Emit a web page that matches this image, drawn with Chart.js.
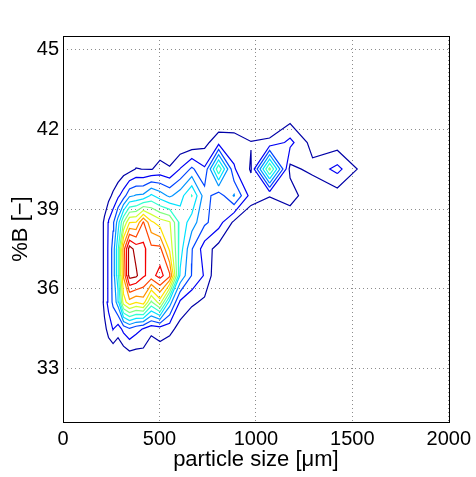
<!DOCTYPE html>
<html><head><meta charset="utf-8">
<script src="https://cdn.jsdelivr.net/npm/chart.js@4.4.1/dist/chart.umd.min.js"></script>
<style>html,body{margin:0;padding:0;background:#fff;}canvas{display:block;}</style>
</head><body>
<canvas id="c" width="476" height="477"></canvas>
<script>
// grid nodes: particle size [um] and %B
const xNodes = [195.5, 214.9, 236.2, 259.6, 285.3, 313.6, 344.7, 378.8, 416.4, 457.6, 503.0, 552.9, 607.6, 667.8, 734.0, 806.8, 886.8, 974.6, 1071.2, 1177.4, 1294.1, 1422.3, 1563.3];
const yNodes = [33.5, 34.5, 35.5, 36.5, 37.5, 38.5, 39.5, 40.5, 41.5, 42.5];
// density values per %B row (one value per particle-size node)
const row335 = [0, 0, 0, 0.15, 0, 0.3, 0.62, 0.57, 0.63, 0, 0.45, 0, 0, 0, 0, 0, 0, 0, 0, 0, 0, 0, 0];
const row345 = [0, 0.6, 1.5, 2.05, 1.5, 2.3, 2.9, 2.36, 1.95, 1.35, 1.5, 1.35, 0.59, 0, 0, 0, 0, 0, 0, 0, 0, 0, 0];
const row355 = [0, 1.5, 2.3, 3.2, 4.5, 8.5, 9.6, 9.05, 9.5, 6.8, 8.5, 4.5, 1.8, 1.2, 0.78, 0, 0, 0, 0, 0, 0, 0, 0];
const row365 = [0, 1.55, 2.1, 3.4, 5.6, 10.1, 13.4, 13.2, 12.15, 11.6, 12.4, 11.2, 4.8, 2.95, 1.9, 0, 0, 0, 0, 0, 0, 0, 0];
const row375 = [0, 1.55, 2.1, 3.4, 5.8, 10.5, 13.5, 12.6, 12.3, 11.3, 11.3, 8.8, 5.5, 3.06, 1.5, 0.59, 0, 0, 0, 0, 0, 0, 0];
const row385 = [0, 1.2, 2.1, 2.8, 4.5, 7.0, 8.95, 9.05, 11.1, 9.2, 8.5, 8.1, 5.7, 4.5, 3.2, 2.43, 0.79, 0, 0, 0, 0, 0, 0];
const row395 = [0, 0.3, 0.7, 1.2, 1.8, 2.5, 3.8, 4.1, 4.2, 5.2, 4.5, 3.8, 4.56, 6.05, 3.5, 2.4, 4.1, 1.57, 1.05, 1.6, 0, 0.46, 0];
const row405 = [0, 0, 0, 0, 0.2, 0.5, 0.62, 1.05, 0.98, 0.95, 1.3, 1.1, 2.05, 3.2, 2.13, 6.8, 2.1, 0.9, 7.3, 0.7, 1.3, 2.31, 0.52];
const row415 = [0, 0, 0, 0, 0, 0, 0, 0, 0, 0, 0.4, 0.2, 0.18, 0.2, 0.68, 1.64, 1.57, 1.04, 1.2, 2.3, 0.59, 0.46, 0];
const row425 = [0, 0, 0, 0, 0, 0, 0, 0, 0, 0, 0, 0, 0, 0, 0, 0, 0, 0, 0, 0.47, 0, 0, 0];
const levels = [1, 2, 3, 4, 5, 6, 7, 8, 9, 10, 11, 12, 13];
const xTicks = [0, 500, 1000, 1500, 2000];
const yTicks = [33, 36, 39, 42, 45];

// styles
const levelColors = ['rgb(0,0,167)','rgb(0,0,245)','rgb(0,69,255)','rgb(0,147,255)','rgb(0,226,255)','rgb(49,255,206)','rgb(128,255,128)','rgb(206,255,49)','rgb(255,226,0)','rgb(255,147,0)','rgb(255,69,0)','rgb(245,0,0)','rgb(167,0,0)'];

const Z = [row335, row345, row355, row365, row375, row385, row395, row405, row415, row425];

function traceLevel(L) {
  const nx = xNodes.length, ny = yNodes.length;
  const pts = {};
  const segs = [];
  function ep(key, i1, j1, i2, j2) {
    if (!pts[key]) {
      const a = Z[j1][i1], b = Z[j2][i2];
      const t = (L - a) / (b - a);
      pts[key] = { x: xNodes[i1] + t * (xNodes[i2] - xNodes[i1]), y: yNodes[j1] + t * (yNodes[j2] - yNodes[j1]) };
    }
    return key;
  }
  for (let j = 0; j < ny - 1; j++) {
    for (let i = 0; i < nx - 1; i++) {
      const a = Z[j][i], b = Z[j][i + 1], c = Z[j + 1][i + 1], d = Z[j + 1][i];
      const A = a >= L, B = b >= L, C = c >= L, D = d >= L;
      const cr = [];
      if (A !== B) cr.push(ep('h' + i + '_' + j, i, j, i + 1, j));
      if (B !== C) cr.push(ep('v' + (i + 1) + '_' + j, i + 1, j, i + 1, j + 1));
      if (D !== C) cr.push(ep('h' + i + '_' + (j + 1), i, j + 1, i + 1, j + 1));
      if (A !== D) cr.push(ep('v' + i + '_' + j, i, j, i, j + 1));
      if (cr.length === 2) segs.push([cr[0], cr[1]]);
      else if (cr.length === 4) {
        const center = (a + b + c + d) / 4 >= L;
        const [k0, k1, k2, k3] = cr;
        if (A === center) { segs.push([k0, k1]); segs.push([k2, k3]); }
        else { segs.push([k3, k0]); segs.push([k1, k2]); }
      }
    }
  }
  const byKey = {};
  segs.forEach((s, idx) => { (byKey[s[0]] = byKey[s[0]] || []).push(idx); (byKey[s[1]] = byKey[s[1]] || []).push(idx); });
  const used = new Array(segs.length).fill(false);
  const lines = [];
  for (let s = 0; s < segs.length; s++) {
    if (used[s]) continue;
    used[s] = true;
    const chain = [segs[s][0], segs[s][1]];
    let ext = true;
    while (ext) {
      ext = false;
      const tail = chain[chain.length - 1];
      for (const idx of byKey[tail]) {
        if (!used[idx]) { used[idx] = true; const sg = segs[idx]; chain.push(sg[0] === tail ? sg[1] : sg[0]); ext = true; break; }
      }
    }
    ext = true;
    while (ext) {
      ext = false;
      const head = chain[0];
      for (const idx of byKey[head]) {
        if (!used[idx]) { used[idx] = true; const sg = segs[idx]; chain.unshift(sg[0] === head ? sg[1] : sg[0]); ext = true; break; }
      }
    }
    lines.push(chain.map(k => pts[k]));
  }
  return lines;
}

const datasets = levels.map((L, li) => {
  const data = [];
  traceLevel(L).forEach(line => { line.forEach(p => data.push(p)); data.push({ x: null, y: null }); });
  return { label: 'level ' + L, data, borderColor: levelColors[li], backgroundColor: levelColors[li], borderWidth: 1.2, pointRadius: 0, pointHoverRadius: 0, showLine: true, fill: false, tension: 0, spanGaps: false };
});

const boxPlugin = {
  id: 'box',
  afterDatasetsDraw(chart) {
    const { ctx, chartArea: { left, top, right, bottom } } = chart;
    ctx.save();
    ctx.strokeStyle = '#000';
    ctx.lineWidth = 1;
    ctx.strokeRect(Math.round(left) + 0.5, Math.round(top) + 0.5, Math.round(right) - Math.round(left), Math.round(bottom) - Math.round(top));
    ctx.restore();
  }
};

const fontFam = "'Liberation Sans', Arial, Helvetica, sans-serif";
new Chart(document.getElementById('c'), {
  type: 'scatter',
  data: { datasets },
  plugins: [boxPlugin],
  options: {
    responsive: false, animation: false, devicePixelRatio: 1,
    layout: { padding: { top: 36, right: 25, left: 0, bottom: 0 } },
    plugins: { legend: { display: false }, tooltip: { enabled: false } },
    events: [],
    scales: {
      x: {
        type: 'linear', min: 0, max: 2000,
        afterBuildTicks: s => { s.ticks = xTicks.map(v => ({ value: v })); },
        afterFit: s => { s.height = 55; },
        grid: { color: 'rgba(0,0,0,0.45)', lineWidth: 1, drawTicks: false },
        border: { display: false, dash: [1, 3] },
        ticks: { color: '#000', font: { family: fontFam, size: 20 }, padding: 5, maxRotation: 0, autoSkip: false, callback: v => String(v) },
        title: { display: true, text: 'particle size [μm]', color: '#000', font: { family: fontFam, size: 22 }, padding: { top: 0, bottom: 4 } }
      },
      y: {
        type: 'linear', min: 31, max: 45.5,
        afterBuildTicks: s => { s.ticks = yTicks.map(v => ({ value: v })); },
        afterFit: s => { s.width = 63; },
        grid: { color: 'rgba(0,0,0,0.45)', lineWidth: 1, drawTicks: false },
        border: { display: false, dash: [1, 3] },
        ticks: { color: '#000', font: { family: fontFam, size: 20 }, padding: 4, autoSkip: false, callback: v => String(v) },
        title: { display: true, text: '%B [−]', color: '#000', font: { family: fontFam, size: 22 }, padding: { top: 8, bottom: 0 } }
      }
    }
  }
});
</script>
</body></html>
